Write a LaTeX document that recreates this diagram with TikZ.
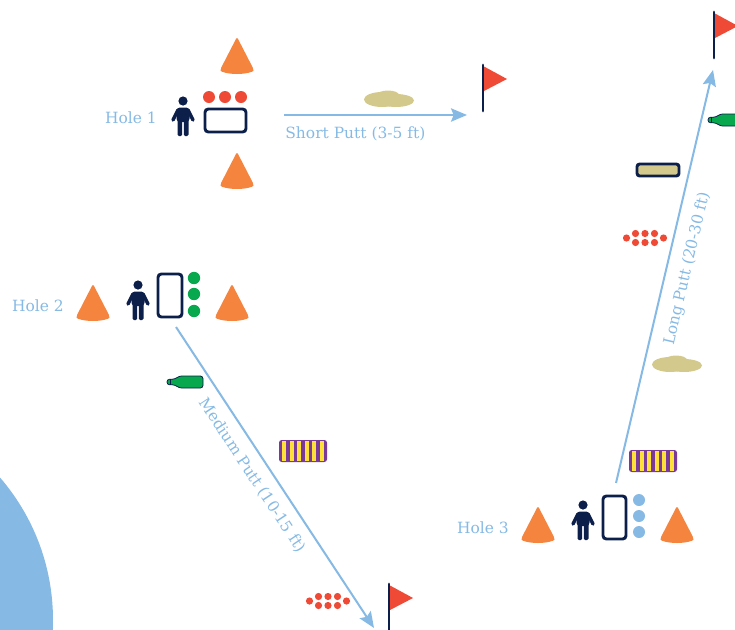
\documentclass[tikz,border=0pt]{standalone}
\usepackage{fontspec}
\setmainfont{DejaVu Serif}
\usetikzlibrary{arrows.meta}

\definecolor{navy}{HTML}{0C1F4A}
\definecolor{sky}{HTML}{86BAE4}
\definecolor{flagred}{HTML}{EE4A36}
\definecolor{conecol}{HTML}{F5843F}
\definecolor{bottlegreen}{HTML}{08A84E}
\definecolor{sand}{HTML}{D4C98C}
\definecolor{stripepurple}{HTML}{7A3A97}
\definecolor{stripeyellow}{HTML}{FDE03A}

\tikzset{
  putt/.style={draw=sky, line width=1.5pt, -{Stealth[length=12pt,width=10pt,inset=2pt]}},
  hole/.style={text=sky, font=\fontsize{11.6}{13}\selectfont},
  mat/.style={draw=navy, fill=white, line width=2.2pt, rounded corners=2.5pt},
  cone/.pic={
    \fill[conecol, rounded corners=1.2pt] (0,0) -- (-16.5,32) arc[start angle=180,end angle=0,x radius=16.5,y radius=5] -- cycle;
  },
  golfer/.pic={
    \fill[navy] (0,0) circle (4.6);
    \fill[navy, rounded corners=2.5pt] (-6.5,6.5) rectangle (6.5,21);
    \draw[navy, line width=2.6pt, line cap=round] (-5,9) -- (-10,19) (5,9) -- (10,19);
    \fill[navy, rounded corners=1pt] (-5.5,18) rectangle (-0.8,35) (0.8,18) rectangle (5.5,35);
  },
  flag/.pic={
    \fill[flagred] (1,2.5) -- (24,15) -- (1,27) -- cycle;
    \draw[navy, line width=2.2pt, line cap=round] (0,1) -- (0,47);
  },
  bottle/.pic={
    \filldraw[fill=bottlegreen, draw=navy, line width=0.6pt, rounded corners=2pt]
      (0,-2.8) -- (8,-2.8) -- (12,-6) -- (36,-6) -- (36,6) -- (12,6) -- (8,2.8) -- (0,2.8) -- cycle;
    \draw[navy, line width=0.6pt] (3.5,-2.8) -- (3.5,2.8);
  },
  stripes/.pic={
    \fill[stripepurple, rounded corners=2pt] (0,0) rectangle (48,22);
    \foreach \i in {0,...,5}
      \fill[stripeyellow] ({3+7.5*\i},1) rectangle ({7+7.5*\i},21);
  },
  balls/.pic={
    \foreach \p in {(-9.5,-4.5),(0,-4.5),(9.5,-4.5),(-9.5,4.5),(0,4.5),(9.5,4.5),(-18.5,0),(18.5,0)}
      \fill[flagred] \p circle (3.6);
  },
  bunker/.pic={
    \fill[sand] (-7,0.5) ellipse (18 and 7.5);
    \fill[sand] (7,1.5) ellipse (18 and 6.5);
    \fill[sand] (-1,-4) ellipse (11 and 4.5);
  }
}

\begin{document}
\begin{tikzpicture}[x=0.75pt, y=-0.75pt]
\clip (0,0) rectangle (735,629);

\fill[sky] (-165,620) circle (218);

% hole 1
\node[hole] (h1) at (131,118) {Hole 1};
\pic at (183,101) {golfer};
\draw[mat] (205,109) rectangle (246,132);
\foreach \x in {209,225,241}
  \fill[flagred] (\x,97) circle (6);
\pic at (237,37) {cone};
\pic at (237,152) {cone};
\pic at (389,99) {bunker};
\pic at (483,64) {flag};

% hole 2
\node[hole] (h2) at (38,306) {Hole 2};
\pic at (93,284) {cone};
\pic at (138,285) {golfer};
\draw[mat] (158,274) rectangle (182,317);
\foreach \y in {278,294,311}
  \fill[bottlegreen] (194,\y) circle (6.2);
\pic at (232,284) {cone};
\pic at (167,382) {bottle};
\pic at (279,440) {stripes};
\pic at (328,601) {balls};
\pic at (389,583) {flag};

% hole 3
\node[hole] (h3) at (483,528) {Hole 3};
\pic at (538,506) {cone};
\pic at (583,505) {golfer};
\draw[mat] (603,496) rectangle (626,539);
\foreach \y in {500,516,532}
  \fill[sky] (639,\y) circle (6);
\pic at (677,506) {cone};
\pic at (629,450) {stripes};
\pic at (677,364) {bunker};
\pic at (645,238) {balls};
\draw[mat, fill=sand, rounded corners=2pt] (637,164) rectangle (679,176);
\pic at (708,120) {bottle};
\pic at (714,11) {flag};

% putts
\coordinate (s1) at (284,115);
\coordinate (f1) at (467,115);
\coordinate (s2) at (176,327);
\coordinate (f2) at (374,628);
\coordinate (s3) at (616,483);
\coordinate (f3) at (713,70);

\draw[putt] (s1) -- node[hole, below=4.5pt, pos=0.39] (l1) {Short Putt (3-5 ft)} (f1);
\draw[putt] (s2) -- node[hole, below=4pt, sloped, pos=0.46] (l2) {Medium Putt (10-15 ft)} (f2);
\draw[putt] (s3) -- node[hole, below=5.5pt, sloped, pos=0.53] (l3) {Long Putt (20-30 ft)} (f3);
\end{tikzpicture}
\end{document}
